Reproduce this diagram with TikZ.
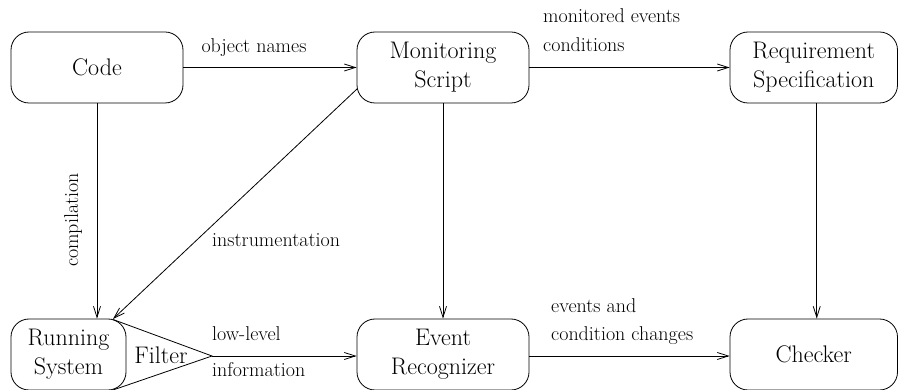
\documentclass[tikz,border=0pt]{standalone}
\usetikzlibrary{arrows.meta}
\tikzset{
  box/.style={draw, line width=0.8pt, rounded corners=18pt, align=center,
    font=\rmfamily\fontsize{24}{29}\selectfont, inner sep=0pt},
  lbl/.style={font=\rmfamily\fontsize{20}{29}\selectfont, inner sep=0pt},
  conn/.style={line width=0.8pt, -{Straight Barb[length=11pt,width=7pt]}},
  edge/.style={line width=0.8pt}
}
\begin{document}
\begin{tikzpicture}[x=1pt,y=-1pt]
\useasboundingbox (0,0) rectangle (898,390);
\begin{scope}
\clip (0,0) rectangle (898,390);
% boxes
\node[box, minimum width=172pt, minimum height=71pt] (code) at (97,67.5) {Code};
\node[box, minimum width=172pt, minimum height=71pt] (ms) at (443,67.5) {Monitoring\\Script};
\node[box, minimum width=167.5pt, minimum height=71pt] (req) at (813.75,67.5) {Requirement\\Specification};
\node[box, minimum width=115pt, minimum height=71pt] (rs) at (68.5,354.5) {Running\\System};
\node[box, minimum width=172pt, minimum height=71pt] (er) at (443,354.5) {Event\\Recognizer};
\node[box, minimum width=167.5pt, minimum height=71pt] (chk) at (813.75,354.5) {Checker};
\end{scope}
% filter
\coordinate (ftop) at (113,319.5);
\coordinate (apex) at (212,356);
\coordinate (fbot) at (113,390);
\draw[edge] (ftop) -- (apex) -- (fbot);
\node[font=\rmfamily\fontsize{24}{29}\selectfont, inner sep=0pt, anchor=base] (filter) at (161,363) {Filter};
% connectors
\draw[conn] (code.east) -- (ms.west);
\draw[conn] (ms.east) -- (req.west);
\draw[conn] (code.south) -- (code.south |- rs.north);
\coordinate (msd) at (357,89);
\coordinate (rsc) at (113,319);
\draw[conn] (msd) -- (rsc);
\draw[conn] (ms.south) -- (er.north);
\draw[conn] ([xshift=3pt]req.south) -- ([xshift=3pt]req.south |- chk.north);
\draw[conn] (apex) -- (apex -| er.west);
\draw[conn] (er.east |- apex) -- (chk.west |- apex);
% labels
\node[lbl, anchor=base] (l1) at (254,53) {object names};
\node[lbl, anchor=base west] (l2) at (543,23) {monitored events};
\node[lbl, anchor=base west] (l3) at (543,52) {conditions};
\node[lbl, anchor=base, rotate=90] (l4) at (78,220) {compilation};
\node[lbl, anchor=base west] (l5) at (212,247) {instrumentation};
\node[lbl, anchor=base west] (l6) at (212,341) {low-level};
\node[lbl, anchor=base west] (l7) at (212,377) {information};
\node[lbl, anchor=base west] (l8) at (551,313) {events and};
\node[lbl, anchor=base west] (l9) at (551,341) {condition changes};
\end{tikzpicture}
\end{document}
